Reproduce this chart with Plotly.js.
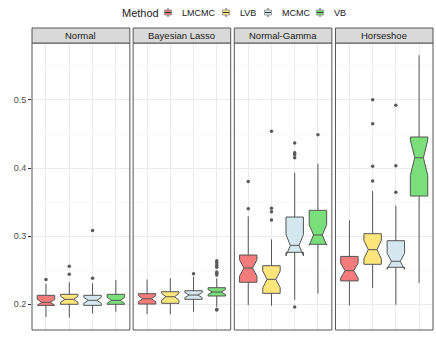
<!DOCTYPE html>
<html><head><meta charset="utf-8">
<script src="https://cdn.plot.ly/plotly-3.0.1.min.js"></script>
<style>html,body{margin:0;padding:0;background:#fff}#chart{width:436px;height:349px}</style>
</head><body><div id="chart"></div>
<script>
const methods = ['LMCMC','LVB','MCMC','VB'];
const panels = ['Normal','Bayesian Lasso','Normal-Gamma','Horseshoe'];
const fills = ['#F47B7B','#FDE57C','#D4E7EF','#7ADF7A'];

// per method: values for the 4 panels
const lowerFence = {
  LMCMC:[0.181,0.185,0.1985,0.198],
  LVB:[0.180,0.185,0.1975,0.2235],
  MCMC:[0.1863,0.1887,0.206,0.199],
  VB:[0.1887,0.196,0.2152,0.2309]
};
const q1 = {
  LMCMC:[0.198,0.200,0.232,0.234],
  LVB:[0.1996,0.201,0.2157,0.2584],
  MCMC:[0.198,0.2069,0.276,0.254],
  VB:[0.1996,0.2118,0.2878,0.3588]
};
const median = {
  LMCMC:[0.2025,0.2078,0.253,0.249],
  LVB:[0.2069,0.2107,0.2363,0.280],
  MCMC:[0.2054,0.2132,0.2863,0.2628],
  VB:[0.2054,0.2176,0.3015,0.4151]
};
const q3 = {
  LMCMC:[0.2128,0.2152,0.272,0.270],
  LVB:[0.2143,0.2181,0.2563,0.3034],
  MCMC:[0.2128,0.2196,0.3279,0.2931],
  VB:[0.2143,0.224,0.3378,0.4456]
};
const upperFence = {
  LMCMC:[0.230,0.236,0.329,0.323],
  LVB:[0.232,0.238,0.295,0.366],
  MCMC:[0.2304,0.2401,0.3931,0.3446],
  VB:[0.2353,0.2378,0.4063,0.5657]
};
const outliers = {
  LMCMC:[[0.236],[],[0.380,0.340],[]],
  LVB:[[0.2554,0.2437],[],[0.454,0.3407,0.3357,0.3235],[0.5004,0.4651,0.4025,0.3809]],
  MCMC:[[0.308,0.238],[0.2446],[0.4368,0.4225,0.4196,0.4152,0.1956],[0.4922,0.4034,0.3643]],
  VB:[[],[0.2637,0.2607,0.2569,0.254,0.247,0.2451,0.2426,0.1922,0.1912],[0.449],[]]
};
const notchFactor = 0.3; // ~1.58/sqrt(n)

const yTicks = [0.2,0.3,0.4,0.5];
const yRange = [0.1618,0.5838];

// layout geometry (pixels)
const W = 436, H = 349, M = {l:32,r:3,t:43,b:19};
const PW = W-M.l-M.r, PH = H-M.t-M.b;
const px = x => (x-M.l)/PW;
const py = y => (H-M.b-y)/PH;

const domains = [[0,0.244],[0.2522,0.4955],[0.5045,0.7478],[0.7568,1]];
const traces = [];
const layout = {
  width:W,height:H,
  margin:M,
  paper_bgcolor:'#fff',plot_bgcolor:'#fff',
  font:{family:'Liberation Sans, Arial, sans-serif',color:'#1a1a1a'},
  boxmode:'overlay',
  showlegend:false,
  shapes:[],annotations:[],
  yaxis:{range:yRange,tickvals:yTicks,ticktext:yTicks.map(v=>v.toFixed(1)),
    tickfont:{size:9,color:'#4d4d4d'},ticks:'outside',ticklen:3,tickcolor:'#333',
    showgrid:true,gridcolor:'#ebebeb',gridwidth:1,zeroline:false,showline:false,
    minor:{tick0:0.25,dtick:0.1,showgrid:true,gridcolor:'#f5f5f5',gridwidth:0.6,ticks:''},
    anchor:'x'}
};
panels.forEach((p,pi)=>{
  const ax = pi===0?'x':'x'+(pi+1);
  const axKey = pi===0?'xaxis':'xaxis'+(pi+1);
  layout[axKey] = {domain:domains[pi],type:'category',categoryorder:'array',categoryarray:methods,
    range:[-0.6,3.6],showticklabels:false,ticks:'',showgrid:true,gridcolor:'#ebebeb',gridwidth:1,
    zeroline:false,showline:false,anchor:'y',fixedrange:true};
  layout.shapes.push({type:'rect',xref:ax+' domain',yref:'y domain',x0:0,x1:1,y0:0,y1:1,
    line:{color:'#555',width:1},fillcolor:'rgba(0,0,0,0)',layer:'above'});
  layout.shapes.push({type:'rect',xref:ax+' domain',yref:'paper',x0:0,x1:1,y0:1,y1:1+15/PH,
    line:{color:'#555',width:1},fillcolor:'#d9d9d9',layer:'above'});
  layout.annotations.push({xref:ax+' domain',yref:'paper',x:0.5,y:1+7.5/PH,text:p,showarrow:false,
    xanchor:'center',yanchor:'middle',font:{size:9.5,color:'#1a1a1a'}});
  methods.forEach((m,mi)=>{
    const iqr = q3[m][pi]-q1[m][pi];
    traces.push({type:'box',name:m,showlegend:false,xaxis:ax,yaxis:'y',
      x:[m],q1:[q1[m][pi]],median:[median[m][pi]],q3:[q3[m][pi]],
      lowerfence:[lowerFence[m][pi]],upperfence:[upperFence[m][pi]],
      notched:true,notchspan:[notchFactor*iqr],notchwidth:0.25,
      width:0.75,whiskerwidth:0,fillcolor:fills[mi],
      line:{color:'#555',width:1},boxpoints:false,hoverinfo:'skip'});
    if(outliers[m][pi].length){
      traces.push({type:'scatter',mode:'markers',xaxis:ax,yaxis:'y',showlegend:false,
        x:outliers[m][pi].map(()=>m),y:outliers[m][pi],
        marker:{size:3.5,color:'#5a5a5a'},hoverinfo:'skip'});
    }
  });
});

// manual legend (ggplot style, top)
const legY = 12.5;
layout.annotations.push({xref:'paper',yref:'paper',x:px(120),y:py(legY),text:'Method',showarrow:false,
  xanchor:'left',yanchor:'middle',font:{size:11,color:'#1a1a1a'}});
const iconX = [168,226,268,320];
const textX = [180,238,280,332];
methods.forEach((m,mi)=>{
  const cx = iconX[mi];
  layout.shapes.push({type:'line',xref:'paper',yref:'paper',x0:px(cx),x1:px(cx),y0:py(legY-4.5),y1:py(legY+4.5),
    line:{color:'#555',width:1}});
  layout.shapes.push({type:'rect',xref:'paper',yref:'paper',x0:px(cx-3.5),x1:px(cx+3.5),y0:py(legY-2.5),y1:py(legY+2.5),
    line:{color:'#888',width:0.8},fillcolor:fills[mi]});
  layout.shapes.push({type:'line',xref:'paper',yref:'paper',x0:px(cx-3),x1:px(cx+3),y0:py(legY),y1:py(legY),
    line:{color:'#333',width:1}});
  layout.annotations.push({xref:'paper',yref:'paper',x:px(textX[mi]),y:py(legY),text:m,showarrow:false,
    xanchor:'left',yanchor:'middle',font:{size:9,color:'#1a1a1a'}});
});

Plotly.newPlot('chart',traces,layout,{displayModeBar:false,staticPlot:true});
</script></body></html>
